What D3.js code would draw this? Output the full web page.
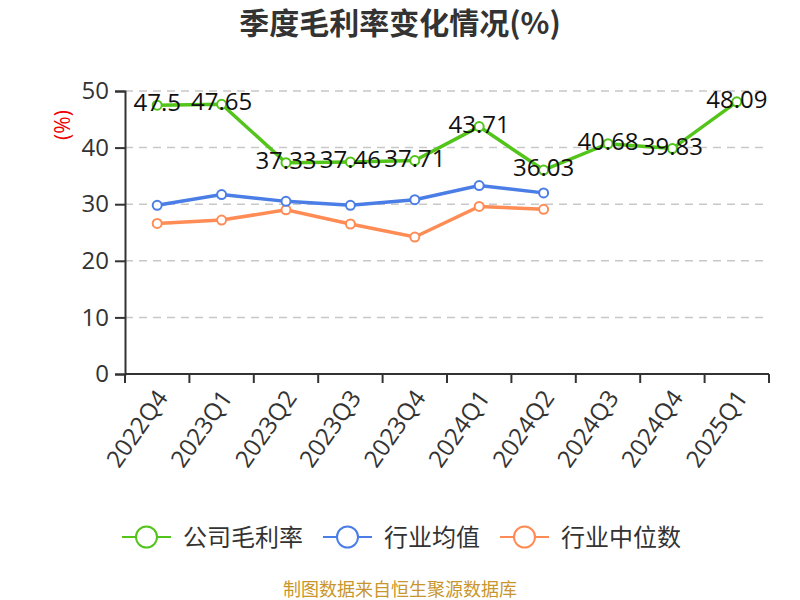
<!DOCTYPE html>
<html>
<head>
<meta charset="utf-8">
<script src="https://cdn.jsdelivr.net/npm/d3@7"></script>
<style>
  body { margin: 0; background: #fff; }
  text { font-family: "Open Sans", "Noto Sans CJK SC", sans-serif; }
  .cjk { font-family: "Noto Sans CJK SC", sans-serif; }
</style>
</head>
<body>
<div id="chart"></div>
<script>
// quarters on the x axis
const quarters = ['2022Q4', '2023Q1', '2023Q2', '2023Q3', '2023Q4',
                  '2024Q1', '2024Q2', '2024Q3', '2024Q4', '2025Q1'];
// company gross margin (%)
const companyValues = [47.5, 47.65, 37.33, 37.46, 37.71, 43.71, 36.03, 40.68, 39.83, 48.09];
// industry average
const industryAvg = [29.8, 31.7, 30.5, 29.8, 30.8, 33.3, 32.0];
// industry median
const industryMedian = [26.6, 27.2, 29.0, 26.5, 24.2, 29.6, 29.1];
const yTicks = [0, 10, 20, 30, 40, 50];
const seriesNames = ['公司毛利率', '行业均值', '行业中位数'];
const seriesColors = ['#52c41a', '#4a7ee6', '#ff8c55'];

const width = 800;
const height = 600;
const margin = { top: 91, right: 31, bottom: 226, left: 125 };
const chartWidth = width - margin.left - margin.right;
const chartHeight = height - margin.top - margin.bottom;

const svg = d3.select('#chart')
    .append('svg')
    .attr('width', width)
    .attr('height', height);

svg.append('text')
    .attr('class', 'cjk')
    .attr('x', width / 2)
    .attr('y', 34)
    .attr('text-anchor', 'middle')
    .style('font-size', '30px')
    .style('font-weight', 'bold')
    .attr('fill', '#333')
    .text('季度毛利率变化情况(%)');

const chart = svg.append('g')
    .attr('transform', `translate(${margin.left},${margin.top})`);

const xScale = d3.scaleBand()
    .domain(quarters)
    .range([0, chartWidth]);
const yScale = d3.scaleLinear()
    .domain([0, 50])
    .range([chartHeight, 0]);

// dashed gridlines
chart.append('g')
    .selectAll('line')
    .data(yTicks.filter(d => d > 0))
    .enter()
    .append('line')
    .attr('x1', 0)
    .attr('x2', chartWidth)
    .attr('y1', d => yScale(d))
    .attr('y2', d => yScale(d))
    .attr('stroke', '#c8c8c8')
    .attr('stroke-width', 1.5)
    .attr('stroke-dasharray', '8,6');

// y axis
const yAxis = chart.append('g')
    .call(d3.axisLeft(yScale).tickValues(yTicks).tickSize(10).tickPadding(6));
yAxis.select('.domain').attr('stroke', '#333').attr('stroke-width', 2);
yAxis.selectAll('.tick line').attr('stroke', '#333').attr('stroke-width', 2);
yAxis.selectAll('.tick text')
    .attr('fill', '#333')
    .style('font-size', '24px');

svg.append('text')
    .attr('transform', `translate(70,125) rotate(-90)`)
    .attr('text-anchor', 'middle')
    .attr('fill', '#e00')
    .style('font-size', '21px')
    .text('(%)');

// x axis: ticks on band edges, labels at band centres
const xAxisG = chart.append('g')
    .attr('transform', `translate(0,${chartHeight})`);
xAxisG.append('line')
    .attr('x1', 0)
    .attr('x2', chartWidth)
    .attr('stroke', '#333')
    .attr('stroke-width', 2);
const edges = quarters.map(q => xScale(q)).concat([chartWidth]);
xAxisG.selectAll('.xtick')
    .data(edges)
    .enter()
    .append('line')
    .attr('x1', d => d)
    .attr('x2', d => d)
    .attr('y1', 0)
    .attr('y2', 9)
    .attr('stroke', '#333')
    .attr('stroke-width', 2);
xAxisG.selectAll('.xlabel')
    .data(quarters)
    .enter()
    .append('text')
    .attr('transform', d => `translate(${xScale(d) + xScale.bandwidth() / 2 - 2},14) rotate(-55)`)
    .attr('text-anchor', 'end')
    .attr('dy', '0.7em')
    .attr('fill', '#333')
    .style('font-size', '24px')
    .text(d => d);

const cx = (d, i) => xScale(quarters[i]) + xScale.bandwidth() / 2;
const line = d3.line()
    .x((d, i) => cx(d, i))
    .y(d => yScale(d));

const allSeries = [companyValues, industryAvg, industryMedian];

// draw lower series first so company line sits on top
[2, 1, 0].forEach(k => {
    const values = allSeries[k];
    const g = chart.append('g');
    g.append('path')
        .datum(values)
        .attr('d', line)
        .attr('fill', 'none')
        .attr('stroke', seriesColors[k])
        .attr('stroke-width', 3.5);
    g.selectAll('circle')
        .data(values)
        .enter()
        .append('circle')
        .attr('cx', (d, i) => cx(d, i))
        .attr('cy', d => yScale(d))
        .attr('r', 4.5)
        .attr('fill', '#fff')
        .attr('stroke', seriesColors[k])
        .attr('stroke-width', 2);
});

// labels for company series
chart.append('g')
    .selectAll('text')
    .data(companyValues)
    .enter()
    .append('text')
    .attr('x', (d, i) => cx(d, i))
    .attr('y', d => yScale(d) + 6)
    .attr('text-anchor', 'middle')
    .attr('fill', '#111')
    .style('font-size', '24px')
    .text(d => d);

// legend
const legendX = [122, 323, 500];
const legend = svg.append('g');
seriesNames.forEach((name, i) => {
    const item = legend.append('g')
        .attr('transform', `translate(${legendX[i]},537)`);
    item.append('line')
        .attr('x1', 0)
        .attr('x2', 49)
        .attr('stroke', seriesColors[i])
        .attr('stroke-width', 2);
    item.append('circle')
        .attr('cx', 24.5)
        .attr('r', 10.5)
        .attr('fill', '#fff')
        .attr('stroke', seriesColors[i])
        .attr('stroke-width', 2);
    item.append('text')
        .attr('class', 'cjk')
        .attr('x', 61)
        .attr('y', 9)
        .attr('fill', '#333')
        .style('font-size', '24px')
        .text(name);
});

svg.append('text')
    .attr('class', 'cjk')
    .attr('x', 400)
    .attr('y', 596)
    .attr('text-anchor', 'middle')
    .attr('fill', '#c8962d')
    .style('font-size', '18px')
    .text('制图数据来自恒生聚源数据库');
</script>
</body>
</html>
